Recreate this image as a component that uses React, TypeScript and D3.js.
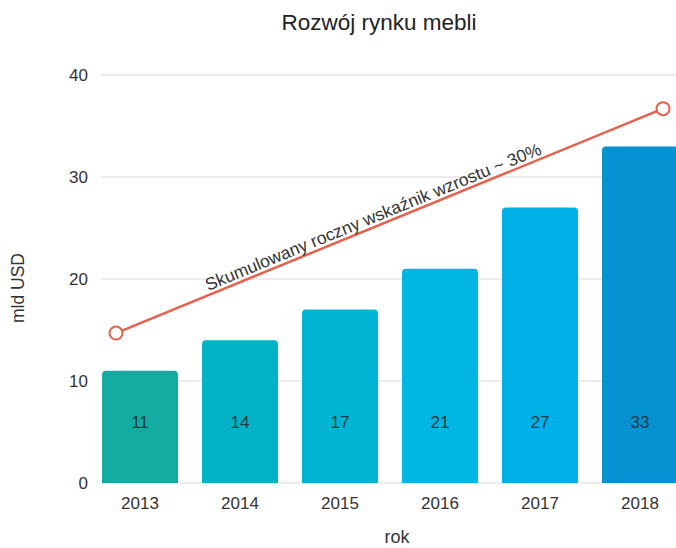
import React from "react";
import * as d3 from "d3";

const title = "Rozwój rynku mebli";
const years = ["2013", "2014", "2015", "2016", "2017", "2018"];
const values = [11, 14, 17, 21, 27, 33];
const barColors = ["#14aca2", "#00b3c7", "#00b5d3", "#00b6e2", "#00b1e8", "#0592d2"];
const yTicks = [0, 10, 20, 30, 40];
const trendYears = [2012.76, 2018.23];
const trendValues = [14.7, 36.7];
const trendLabel = "Skumulowany roczny wskaźnik wzrostu ~ 30%";
const yLabel = "mld USD";
const xLabel = "rok";
const labelValue = 6;

const W = 676;
const H = 548;
const FONT = "'Liberation Sans', Arial, sans-serif";

export default function App() {
  const x = d3.scaleBand<string>().domain(years).range([90, 690]).paddingInner(0.24).paddingOuter(0.12);
  const y = d3.scaleLinear().domain([0, 40]).range([483, 75]);
  const bw = x.bandwidth();
  const xl = d3
    .scaleLinear()
    .domain([2013, 2018])
    .range([(x("2013") as number) + bw / 2, (x("2018") as number) + bw / 2]);

  const pts: [number, number][] = trendYears.map((yr, i) => [xl(yr), y(trendValues[i])]);
  const line = d3.line()(pts) as string;
  const ang = (Math.atan2(pts[1][1] - pts[0][1], pts[1][0] - pts[0][0]) * 180) / Math.PI;
  const t = 0.477;
  const mx = pts[0][0] + (pts[1][0] - pts[0][0]) * t;
  const my = pts[0][1] + (pts[1][1] - pts[0][1]) * t;

  const r = 4;
  const barPath = (x0: number, y0: number, w: number, h: number) =>
    `M${x0},${y0 + h}V${y0 + r}Q${x0},${y0} ${x0 + r},${y0}H${x0 + w - r}Q${x0 + w},${y0} ${x0 + w},${y0 + r}V${y0 + h}Z`;

  return (
    <svg
      width={W}
      height={H}
      style={{ position: "absolute", left: 0, top: 0, background: "#fff" }}
      fontFamily={FONT}
    >
      <rect width={W} height={H} fill="#fff" />
      <text x={379} y={30} textAnchor="middle" fontSize={22.5} fill="#222">
        {title}
      </text>
      {yTicks.map((v) => (
        <g key={v}>
          <line x1={101} x2={W} y1={y(v)} y2={y(v)} stroke="#d9d9d9" strokeWidth={1.2} />
          <text x={88} y={y(v) + 6} textAnchor="end" fontSize={17} fill="#333">
            {v}
          </text>
        </g>
      ))}
      {years.map((yr, i) => {
        const x0 = x(yr) as number;
        const top = y(values[i]);
        return (
          <g key={yr}>
            <path d={barPath(x0, top, bw, y(0) - top)} fill={barColors[i]} />
            <text x={x0 + bw / 2} y={y(labelValue) + 6} textAnchor="middle" fontSize={17} fill="#1f3a40">
              {values[i]}
            </text>
            <text x={x0 + bw / 2} y={509} textAnchor="middle" fontSize={17} fill="#333">
              {yr}
            </text>
          </g>
        );
      })}
      <path d={line} stroke="#e8604c" strokeWidth={2.5} fill="none" />
      {pts.map((p, i) => (
        <circle key={i} cx={p[0]} cy={p[1]} r={6.5} fill="#fff" stroke="#e8604c" strokeWidth={2} />
      ))}
      <text
        transform={`translate(${mx},${my}) rotate(${ang})`}
        y={-4}
        textAnchor="middle"
        fontSize={17.5}
        fill="#333"
      >
        {trendLabel}
      </text>
      <text transform={`translate(24,288) rotate(-90)`} textAnchor="middle" fontSize={17.5} fill="#333">
        {yLabel}
      </text>
      <text x={397} y={543} textAnchor="middle" fontSize={18} fill="#333">
        {xLabel}
      </text>
    </svg>
  );
}
